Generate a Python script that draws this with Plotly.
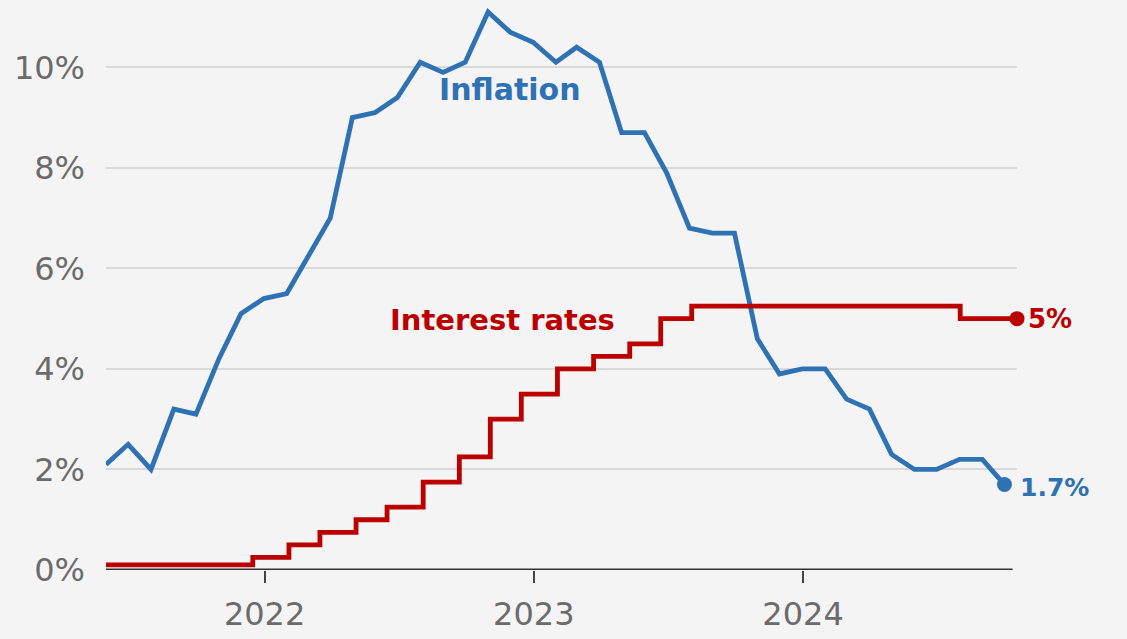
import plotly.graph_objects as go
import pandas as pd

# UK CPI inflation, annual rate (%), monthly from May 2021 to Sep 2024
inflation_months = pd.date_range("2021-05-31", "2024-09-30", freq="ME")
inflation = [
    2.1, 2.5, 2.0, 3.2, 3.1, 4.2, 5.1, 5.4,
    5.5, 6.2, 7.0, 9.0, 9.1, 9.4, 10.1, 9.9, 10.1, 11.1, 10.7, 10.5,
    10.1, 10.4, 10.1, 8.7, 8.7, 7.9, 6.8, 6.7, 6.7, 4.6, 3.9, 4.0,
    4.0, 3.4, 3.2, 2.3, 2.0, 2.0, 2.2, 2.2, 1.7,
]

# Bank Rate decisions (date the new rate took effect)
rate_dates = [
    "2021-05-31", "2021-12-16", "2022-02-03", "2022-03-17", "2022-05-05",
    "2022-06-16", "2022-08-04", "2022-09-22", "2022-11-03", "2022-12-15",
    "2023-02-02", "2023-03-23", "2023-05-11", "2023-06-22", "2023-08-03",
    "2024-08-01", "2024-10-17",
]
rates = [
    0.1, 0.25, 0.5, 0.75, 1.0,
    1.25, 1.75, 2.25, 3.0, 3.5,
    4.0, 4.25, 4.5, 5.0, 5.25,
    5.0, 5.0,
]

y_ticks = [0, 2, 4, 6, 8, 10]
y_tick_text = ["0%", "2%", "4%", "6%", "8%", "10%"]
x_ticks = ["2022-01-01", "2023-01-01", "2024-01-01"]
x_tick_text = ["2022", "2023", "2024"]

BLUE = "#2f72b3"
RED = "#bb0000"
GREY_TEXT = "#6b6b6b"
BG = "#f4f4f4"
FONT = "DejaVu Sans"

fig = go.Figure()

fig.add_trace(go.Scatter(
    x=inflation_months, y=inflation, mode="lines",
    line=dict(color=BLUE, width=4.8), cliponaxis=False,
    hoverinfo="skip", showlegend=False,
))
fig.add_trace(go.Scatter(
    x=[inflation_months[-1]], y=[inflation[-1]], mode="markers",
    marker=dict(color=BLUE, size=15), cliponaxis=False,
    hoverinfo="skip", showlegend=False,
))
fig.add_trace(go.Scatter(
    x=pd.to_datetime(rate_dates), y=rates, mode="lines",
    line=dict(color=RED, width=4.8, shape="hv"), cliponaxis=False,
    hoverinfo="skip", showlegend=False,
))
fig.add_trace(go.Scatter(
    x=[pd.to_datetime(rate_dates[-1])], y=[rates[-1]], mode="markers",
    marker=dict(color=RED, size=15), cliponaxis=False,
    hoverinfo="skip", showlegend=False,
))

# Series labels
fig.add_annotation(x="2022-11-29", y=9.55, text="<b>Inflation</b>", showarrow=False,
                   font=dict(family=FONT, size=30, color=BLUE), xanchor="center", yanchor="middle")
fig.add_annotation(x="2022-11-20", y=4.98, text="<b>Interest rates</b>", showarrow=False,
                   font=dict(family=FONT, size=29, color=RED), xanchor="center", yanchor="middle")
fig.add_annotation(x=pd.to_datetime(rate_dates[-1]), y=rates[-1], text="<b>5%</b>", showarrow=False,
                   font=dict(family=FONT, size=26, color=RED), xanchor="left", yanchor="middle",
                   xshift=9)
fig.add_annotation(x=inflation_months[-1], y=inflation[-1], text="<b>1.7%</b>", showarrow=False,
                   font=dict(family=FONT, size=25, color=BLUE), xanchor="left", yanchor="middle",
                   xshift=14, yshift=-3)

fig.update_layout(
    width=1127, height=639,
    margin=dict(l=106, r=110, t=7, b=69),
    paper_bgcolor=BG, plot_bgcolor=BG,
    font=dict(family=FONT, color=GREY_TEXT),
    xaxis=dict(
        type="date",
        range=["2021-05-31", "2024-10-17"],
        tickvals=x_ticks, ticktext=x_tick_text,
        tickfont=dict(size=32, color=GREY_TEXT),
        ticks="outside", ticklen=12, tickwidth=2, tickcolor="#444444",
        ticklabelstandoff=4,
        showgrid=False, zeroline=False,
        showline=False,
    ),
    yaxis=dict(
        range=[0, 11.2],
        tickvals=y_ticks, ticktext=y_tick_text,
        tickfont=dict(size=32, color=GREY_TEXT),
        ticks="", ticklabelstandoff=20,
        showgrid=True, gridcolor="#d9d9d9", gridwidth=2,
        zeroline=False, showline=False,
    ),
)

# Baseline along 0%
fig.add_shape(type="line", xref="x", yref="y",
              x0="2021-05-31", x1="2024-10-11", y0=0, y1=0,
              line=dict(color="#333333", width=3), layer="below")

fig.write_html("out.html")
